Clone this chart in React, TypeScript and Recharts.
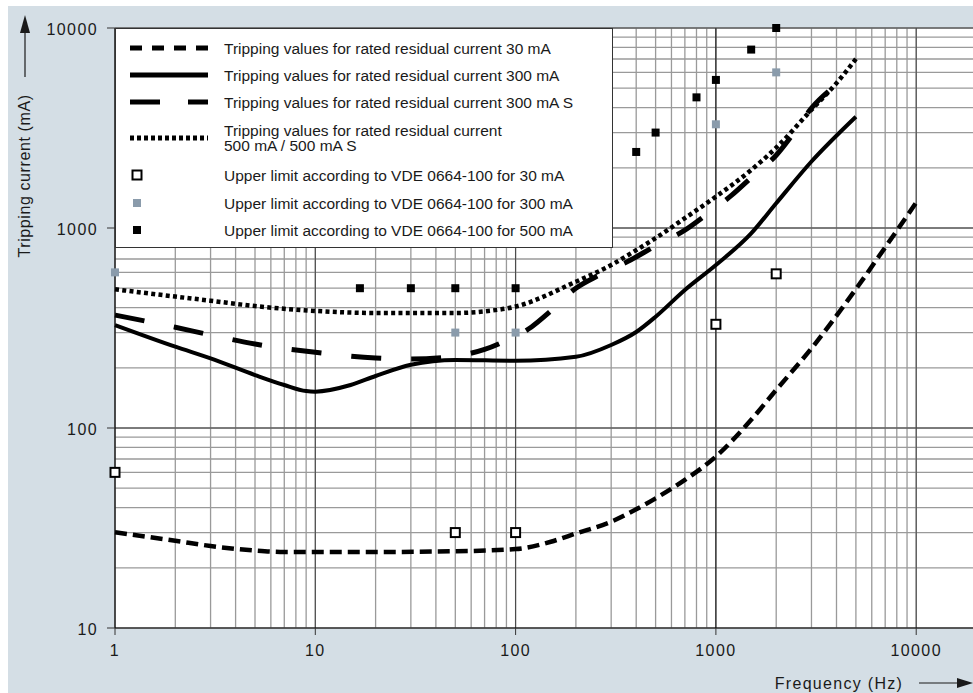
import {
  ComposedChart,
  Line,
  Scatter,
  XAxis,
  YAxis,
  CartesianGrid,
  ReferenceLine,
  Legend,
  Label,
} from "recharts";

// frequency (Hz) / tripping current (mA)
const FREQ_30 = [1, 2, 3, 5, 7, 10, 20, 50, 100, 150, 200, 300, 400, 500, 700, 1000, 1500, 2000, 3000, 5000, 7000, 10000];
const TRIP_30 = [30.1, 27.3, 25.7, 24.4, 24.0, 24.0, 24.0, 24.2, 24.8, 27, 29.7, 34, 39.2, 44.5, 55, 72, 110, 155, 250, 495, 800, 1340];

const FREQ_300 = [1, 2, 3, 5, 7, 9, 10, 15, 20, 30, 50, 100, 200, 300, 400, 500, 700, 1000, 1500, 2000, 3000, 5000];
const TRIP_300 = [327, 255, 223, 184, 164, 153, 152, 164, 182, 207, 219, 217, 227, 260, 302, 360, 490, 653, 940, 1330, 2150, 3600];

const FREQ_300S = [1, 2, 3, 5, 10, 20, 30, 50, 70, 85, 120, 150, 200, 260, 375, 500, 700, 900, 1200, 1550, 2000, 2450, 3000, 3800];
const TRIP_300S = [367, 319, 292, 263, 239, 224, 221, 229, 247, 267, 320, 385, 500, 580, 692, 815, 975, 1170, 1460, 1840, 2310, 2990, 3980, 5000];

const FREQ_500 = [1, 2, 3, 5, 10, 20, 50, 70, 100, 200, 300, 400, 500, 700, 1000, 1500, 2000, 3000, 4000, 5000];
const TRIP_500 = [494, 454, 433, 407, 385, 376, 376, 383, 405, 539, 653, 775, 890, 1120, 1435, 1950, 2520, 3900, 5300, 7000];

// VDE 0664-100 upper limits
const LIMIT30_F = [1, 50, 100, 1000, 2000];
const LIMIT30_V = [60, 30, 30, 330, 590];
const LIMIT300_F = [1, 50, 100, 1000, 2000];
const LIMIT300_V = [600, 300, 300, 3300, 6000];
const LIMIT500_F = [16.7, 30, 50, 100, 400, 500, 800, 1000, 1500, 2000];
const LIMIT500_V = [500, 500, 500, 500, 2400, 3000, 4500, 5500, 7800, 10000];

const X_GRID = [
  1, 2, 3, 4, 5, 6, 7, 8, 9,
  10, 20, 30, 40, 50, 60, 70, 80, 90,
  100, 200, 300, 400, 500, 600, 700, 800, 900,
  1000, 2000, 3000, 4000, 5000, 6000, 7000, 8000, 9000,
  10000, 20000,
];
const Y_GRID = [
  10, 20, 30, 40, 50, 60, 70, 80, 90,
  100, 200, 300, 400, 500, 600, 700, 800, 900,
  1000, 2000, 3000, 4000, 5000, 6000, 7000, 8000, 9000,
  10000,
];
const X_LABELS = [1, 10, 100, 1000, 10000];
const Y_LABELS = [10, 100, 1000, 10000];

const LEGEND_LABELS = [
  "Tripping values for rated residual current 30 mA",
  "Tripping values for rated residual current 300 mA",
  "Tripping values for rated residual current 300 mA S",
  "Tripping values for rated residual current\n500 mA / 500 mA S",
  "Upper limit according to VDE 0664-100 for 30 mA",
  "Upper limit according to VDE 0664-100 for 300 mA",
  "Upper limit according to VDE 0664-100 for 500 mA",
];

const toPoints = (f: number[], v: number[]) => f.map((x, i) => ({ f: x, v: v[i] }));

const FONT = "'Liberation Sans', Arial, sans-serif";
const GREY_MARK = "#8a9bab";

const openSquare = (p: any) => (
  <rect x={p.cx - 4.5} y={p.cy - 4.5} width={9} height={9} fill="#fff" stroke="#000" strokeWidth={2} />
);
const greySquare = (p: any) => (
  <rect x={p.cx - 4} y={p.cy - 4} width={8} height={8} fill={GREY_MARK} />
);
const blackSquare = (p: any) => (
  <rect x={p.cx - 4} y={p.cy - 4} width={8} height={8} fill="#000" />
);

function XTick({ x, y, payload }: any) {
  if (!X_LABELS.includes(payload.value)) return <g />;
  return (
    <g>
      <line x1={x} x2={x} y1={y} y2={y + 7} stroke="#333" />
      <text x={x} y={y + 28} textAnchor="middle" fontFamily={FONT} fontSize={16} letterSpacing={1.4} fill="#1a1a1a">
        {payload.value}
      </text>
    </g>
  );
}

function YTick({ x, y, payload }: any) {
  if (!Y_LABELS.includes(payload.value)) return <g />;
  return (
    <g>
      <line x1={x - 8} x2={x} y1={y} y2={y} stroke="#333" />
      <text x={x - 17} y={y + 7} textAnchor="end" fontFamily={FONT} fontSize={16} letterSpacing={1.4} fill="#1a1a1a">
        {payload.value}
      </text>
    </g>
  );
}

const YTitle = ({ viewBox }: any) => {
  const ax = viewBox.x - 30;
  return (
    <g>
      <line x1={ax} x2={ax} y1={71} y2={26} stroke="#1a1a1a" strokeWidth={1.2} />
      <polygon points={`${ax},9 ${ax - 5},27 ${ax + 5},27`} fill="#1a1a1a" />
      <text
        x={ax - 1}
        y={170}
        transform={`rotate(-90 ${ax - 1} 170)`}
        textAnchor="middle"
        dominantBaseline="central"
        fontFamily={FONT}
        fontSize={16}
        letterSpacing={0.6}
        fill="#1a1a1a"
      >
        Tripping current (mA)
      </text>
    </g>
  );
};

const XTitle = ({ viewBox }: any) => {
  const y = viewBox.y + 55;
  return (
    <g>
      <text x={831} y={y} textAnchor="middle" dominantBaseline="central" fontFamily={FONT} fontSize={16} letterSpacing={1.3} fill="#1a1a1a">
        Frequency (Hz)
      </text>
      <line x1={911} x2={952} y1={y} y2={y} stroke="#1a1a1a" strokeWidth={1.2} />
      <polygon points={`965,${y} 949,${y - 5} 949,${y + 5}`} fill="#1a1a1a" />
    </g>
  );
};

const SAMPLE_LINES = [
  { dash: "12 10", width: 5 },
  { dash: undefined, width: 5 },
  { dash: "30 28", width: 5 },
  { dash: "4 3", width: 5 },
];
const SAMPLE_SQUARES = [
  { fill: "#fff", stroke: "#000", size: 9 },
  { fill: GREY_MARK, stroke: "none", size: 8 },
  { fill: "#000", stroke: "none", size: 8 },
];
const ROW_CENTERS = [20, 47, 74, 110, 147, 175, 202];

const LegendBox = () => (
  <div
    style={{
      position: "relative",
      width: 498,
      height: 220,
      boxSizing: "border-box",
      border: "1px solid #333",
      background: "#fff",
      fontFamily: FONT,
      fontSize: 15.5,
      color: "#1a1a1a",
    }}
  >
    {LEGEND_LABELS.map((label, i) => {
      const h = label.includes("\n") ? 34 : 20;
      return (
        <div
          key={i}
          style={{ position: "absolute", left: 0, right: 0, top: ROW_CENTERS[i] - 1 - h / 2, height: h }}
        >
          <svg width={80} height={h} style={{ position: "absolute", left: 14, top: 0 }}>
            {i < 4 ? (
              <line
                x1={0}
                x2={78}
                y1={h / 2}
                y2={h / 2}
                stroke="#000"
                strokeWidth={SAMPLE_LINES[i].width}
                strokeDasharray={SAMPLE_LINES[i].dash}
              />
            ) : (
              <rect
                x={7 - SAMPLE_SQUARES[i - 4].size / 2}
                y={h / 2 - SAMPLE_SQUARES[i - 4].size / 2}
                width={SAMPLE_SQUARES[i - 4].size}
                height={SAMPLE_SQUARES[i - 4].size}
                fill={SAMPLE_SQUARES[i - 4].fill}
                stroke={SAMPLE_SQUARES[i - 4].stroke}
                strokeWidth={2}
              />
            )}
          </svg>
          <div
            style={{
              position: "absolute",
              left: 108,
              top: 0,
              height: h,
              display: "flex",
              alignItems: "center",
              whiteSpace: "pre",
              lineHeight: "15px",
            }}
          >
            {label}
          </div>
        </div>
      );
    })}
  </div>
);

export default function App() {
  return (
    <div
      style={{
        position: "absolute",
        left: 8,
        top: 6,
        width: 965,
        height: 687,
        background: "#d4dee5",
        overflow: "hidden",
      }}
    >
      <ComposedChart width={975} height={687} margin={{ top: 22, right: 6.5, bottom: 35, left: 47 }}>
        <CartesianGrid fill="#fff" stroke="#9a9a9a" strokeWidth={1.3} />
        <XAxis
          dataKey="f"
          type="number"
          scale="log"
          domain={[1, 20000]}
          ticks={X_GRID}
          interval={0}
          tick={<XTick />}
          tickLine={false}
          tickSize={0}
          tickMargin={0}
          height={30}
          axisLine={{ stroke: "#000", strokeWidth: 1.2 }}
        >
          <Label content={<XTitle />} />
        </XAxis>
        <YAxis
          dataKey="v"
          type="number"
          scale="log"
          domain={[10, 10000]}
          ticks={Y_GRID}
          interval={0}
          tick={<YTick />}
          tickLine={false}
          tickSize={0}
          tickMargin={0}
          width={60}
          axisLine={{ stroke: "#000", strokeWidth: 1.2 }}
        >
          <Label content={<YTitle />} />
        </YAxis>
        {X_LABELS.slice(1).map((v) => (
          <ReferenceLine key={`x${v}`} x={v} stroke={v === 1000 ? "#000" : "#444"} strokeWidth={1} />
        ))}
        {Y_LABELS.slice(1).map((v) => (
          <ReferenceLine key={`y${v}`} y={v} stroke="#444" strokeWidth={1} />
        ))}
        <Line
          data={toPoints(FREQ_30, TRIP_30)}
          dataKey="v"
          type="monotone"
          stroke="#000"
          strokeWidth={4.5}
          strokeDasharray="12 6"
          dot={false}
          activeDot={false}
          isAnimationActive={false}
        />
        <Line
          data={toPoints(FREQ_300, TRIP_300)}
          dataKey="v"
          type="monotone"
          stroke="#000"
          strokeWidth={4}
          dot={false}
          activeDot={false}
          isAnimationActive={false}
        />
        <Line
          data={toPoints(FREQ_300S, TRIP_300S)}
          dataKey="v"
          type="monotone"
          stroke="#000"
          strokeWidth={5}
          strokeDasharray="30 30"
          dot={false}
          activeDot={false}
          isAnimationActive={false}
        />
        <Line
          data={toPoints(FREQ_500, TRIP_500)}
          dataKey="v"
          type="monotone"
          stroke="#000"
          strokeWidth={4.5}
          strokeDasharray="4 3.3"
          dot={false}
          activeDot={false}
          isAnimationActive={false}
        />
        <Scatter data={toPoints(LIMIT30_F, LIMIT30_V)} shape={openSquare} isAnimationActive={false} />
        <Scatter data={toPoints(LIMIT300_F, LIMIT300_V)} shape={greySquare} isAnimationActive={false} />
        <Scatter data={toPoints(LIMIT500_F, LIMIT500_V)} shape={blackSquare} isAnimationActive={false} />
        <Legend
          content={<LegendBox />}
          layout="vertical"
          align="center"
          verticalAlign="middle"
          wrapperStyle={{ position: "absolute", top: 22, left: 107, width: 498, height: 220 }}
        />
      </ComposedChart>
    </div>
  );
}
